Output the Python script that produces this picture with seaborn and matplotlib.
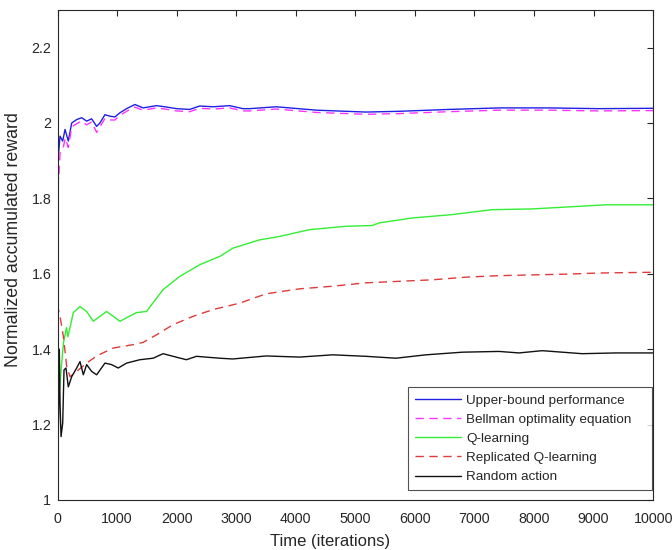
import numpy as np
import pandas as pd
import matplotlib
matplotlib.use("Agg")
import matplotlib.pyplot as plt
import seaborn as sns

# ---------------- data ----------------
ub_x = [0, 8, 14, 42, 87, 126, 181, 238, 321, 405, 489, 573, 657, 712, 796, 880, 963,
        1047, 1159, 1298, 1437, 1661, 1801, 1997, 2219, 2387, 2610, 2890, 3112, 3224,
        3672, 4342, 5179, 5737, 6575, 7412, 8250, 9087, 10000]
ub_y = [1.0, 2.0, 1.912, 1.965, 1.952, 1.983, 1.952, 2.0, 2.009, 2.014, 2.005, 2.011,
        1.991, 2.0, 2.022, 2.018, 2.016, 2.027, 2.038, 2.049, 2.04, 2.046, 2.043, 2.038,
        2.036, 2.045, 2.043, 2.046, 2.038, 2.038, 2.043, 2.034, 2.029, 2.031, 2.036,
        2.04, 2.04, 2.038, 2.039]

bell_x = [0, 10, 20, 42, 90, 130, 181, 240, 321, 405, 489, 573, 657, 712, 796, 880,
          963, 1047, 1159, 1298, 1437, 1661, 1801, 1997, 2219, 2387, 2610, 2890, 3112,
          3224, 3672, 4342, 5179, 5737, 6575, 7412, 8250, 9087, 10000]
bell_y = [1.0, 1.86, 1.85, 1.92, 1.93, 1.96, 1.935, 1.99, 1.998, 2.005, 1.995, 2.003,
          1.975, 1.99, 2.012, 2.008, 2.008, 2.02, 2.031, 2.042, 2.034, 2.04, 2.037, 2.032,
          2.03, 2.039, 2.037, 2.04, 2.032, 2.032, 2.037, 2.028, 2.023, 2.025, 2.03,
          2.034, 2.034, 2.032, 2.033]

ql_x = [0, 30, 100, 150, 175, 265, 377, 489, 600, 824, 1047, 1326, 1494, 1772, 2052,
        2387, 2722, 2945, 3392, 3727, 4230, 4844, 5285, 5402, 5955, 6625, 7295, 7965,
        8534, 9204, 10000]
ql_y = [1.42, 1.29, 1.417, 1.457, 1.433, 1.497, 1.513, 1.50, 1.474, 1.50, 1.474, 1.497,
        1.50, 1.558, 1.593, 1.624, 1.646, 1.668, 1.69, 1.699, 1.717, 1.726, 1.728, 1.735,
        1.748, 1.757, 1.77, 1.772, 1.777, 1.783, 1.783]

rq_x = [0, 15, 42, 98, 154, 210, 321, 489, 657, 935, 1270, 1437, 1661, 1940, 2275,
        2610, 3057, 3504, 4062, 4620, 5179, 5737, 6295, 6854, 7412, 7970, 8534, 9087,
        10000]
rq_y = [1.52, 1.505, 1.487, 1.434, 1.354, 1.327, 1.341, 1.363, 1.382, 1.403, 1.412,
        1.418, 1.438, 1.465, 1.487, 1.505, 1.522, 1.547, 1.56, 1.567, 1.576, 1.58, 1.584,
        1.591, 1.595, 1.597, 1.599, 1.602, 1.604]

ra_x = [0, 30, 42, 59, 87, 109, 142, 181, 238, 321, 377, 433, 489, 573, 657, 796, 908,
        1019, 1159, 1382, 1605, 1772, 1940, 2164, 2332, 2722, 2940, 3504, 4062, 4620,
        5179, 5682, 6184, 6798, 7412, 7747, 8137, 8807, 9367, 10000]
ra_y = [1.0, 1.40, 1.257, 1.168, 1.204, 1.345, 1.35, 1.30, 1.327, 1.35, 1.367, 1.332,
        1.359, 1.341, 1.332, 1.363, 1.359, 1.35, 1.363, 1.372, 1.376, 1.388, 1.381,
        1.372, 1.381, 1.376, 1.374, 1.382, 1.379, 1.385, 1.381, 1.376, 1.385, 1.392,
        1.394, 1.39, 1.396, 1.388, 1.39, 1.39]

labels = ["Upper-bound performance", "Bellman optimality equation", "Q-learning",
          "Replicated Q-learning", "Random action"]
x_ticks = list(range(0, 10001, 1000))
y_ticks = [1.0, 1.2, 1.4, 1.6, 1.8, 2.0, 2.2]
y_tick_labels = ["1", "1.2", "1.4", "1.6", "1.8", "2", "2.2"]

# ---------------- style ----------------
sns.set_style("white")
plt.rcParams["font.family"] = ["Liberation Sans", "DejaVu Sans"]
plt.rcParams["font.size"] = 9.7

fig = plt.figure(figsize=(6.72, 5.5), dpi=100)
ax = fig.add_axes([0.0856, 0.091, 0.972 - 0.0856, 0.982 - 0.091])

series = [
    (ub_x, ub_y, "#1f1fe6", "-"),
    (bell_x, bell_y, "#ff33ff", (0, (6, 4))),
    (ql_x, ql_y, "#33ee33", "-"),
    (rq_x, rq_y, "#e03a3a", (0, (6, 4))),
    (ra_x, ra_y, "#111111", "-"),
]
for (xs, ys, col, ls), lab in zip(series, labels):
    sns.lineplot(x=xs, y=ys, ax=ax, color=col, linestyle=ls, linewidth=1.0,
                 label=lab, estimator=None, sort=False)

ax.set_xlim(0, 10000)
ax.set_ylim(1.0, 2.3)
ax.set_xticks(x_ticks)
ax.set_xticklabels([str(t) for t in x_ticks])
ax.set_yticks(y_ticks)
ax.set_yticklabels(y_tick_labels)

tc = "#262626"
ax.tick_params(direction="in", length=4, width=0.8, colors=tc, labelcolor=tc,
               top=True, right=True, labeltop=False, labelright=False,
               labelsize=10.3)
ax.tick_params(axis="x", pad=9)
ax.tick_params(axis="y", pad=4.5)
for s in ax.spines.values():
    s.set_color("#262626")
    s.set_linewidth(0.8)

ax.set_xlabel("Time (iterations)", color=tc, fontsize=12)
ax.set_ylabel("Normalized accumulated reward", color=tc, fontsize=12.8)
ax.xaxis.set_label_coords(0.458, -0.07)
ax.yaxis.set_label_coords(-0.06, 0.532)

leg = ax.legend(loc="lower left", bbox_to_anchor=(0.5886, 0.0204, 0.4097, 0.2102),
                mode="expand", borderaxespad=0, frameon=True, fancybox=False,
                shadow=False, handlelength=3.4, handletextpad=0.4, labelspacing=0.5,
                borderpad=0.5, fontsize=9.7)
leg.get_frame().set_edgecolor("#262626")
leg.get_frame().set_linewidth(0.8)
for t in leg.get_texts():
    t.set_color(tc)

fig.savefig("out.png", dpi=100)
